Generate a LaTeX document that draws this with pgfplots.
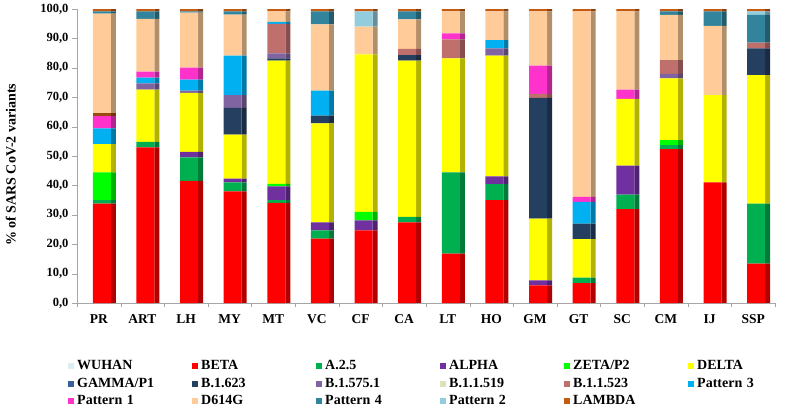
\documentclass[border=0pt]{standalone}
\usepackage{pgfplots}
\usepackage{pgfplotstable}
\pgfplotsset{compat=1.18}
\usepackage{fontspec}
\setmainfont{Liberation Serif}

\definecolor{cWU}{HTML}{DAEEF3}
\definecolor{cBE}{HTML}{FF0000}
\definecolor{cA25}{HTML}{00B050}
\definecolor{cAL}{HTML}{7030A0}
\definecolor{cZE}{HTML}{00FF00}
\definecolor{cDE}{HTML}{FFFF00}
\definecolor{cGA}{HTML}{3A5F97}
\definecolor{cB623}{HTML}{243F60}
\definecolor{cB575}{HTML}{8064A2}
\definecolor{cB519}{HTML}{D7E4BD}
\definecolor{cB523}{HTML}{C0706C}
\definecolor{cP3}{HTML}{00B0F0}
\definecolor{cP1}{HTML}{FF33CC}
\definecolor{cBR}{HTML}{9C4A10}
\definecolor{cD614}{HTML}{FFCC99}
\definecolor{cP4}{HTML}{31849B}
\definecolor{cP2}{HTML}{93CDDD}
\definecolor{cLA}{HTML}{C55A11}

\pgfplotstableread{
x  WU BE   A25  AL  ZE  DE   GA B623 B575 B519 B523 P3   P1  BR  D614 P4  P2  LA
0  0  33.8 1.2  0   9.4 9.6  0  0    0    0    0    5.4  4.2 1.0 33.8 0.8 0   0.8
1  0  52.9 1.9  0   0   17.8 0  0    2.1  0    0    2.0  2.0 0   17.9 2.6 0   0.8
2  0  41.5 8.0  1.9 0   20.1 0  0    0.7  0    0    3.8  4.1 0   18.7 0.4 0   0.8
3  0  38.0 3.0  1.3 0   15.0 0  9.1  4.3  0    0    13.4 0   0   14.0 1.1 0   0.8
4  0  34.1 0.9  4.7 0.8 41.9 0  0.8  1.7  0    10.0 0.7  0   0   3.6  0   0   0.8
5  0  21.9 2.8  2.7 0   33.7 0  2.6  0    0    0    8.5  0   0   22.6 4.4 0   0.8
6  0  24.7 0    3.4 2.9 53.6 0  0    0    0    0    0    0   0   9.4  0   5.2 0.8
7  0  27.4 1.9  0   0   53.1 0  1.9  0    0    2.1  0    0   0   10.1 2.7 0   0.8
8  0  16.8 27.6 0   0   38.8 0  0    0    0    6.5  0    2.0 0   7.5  0   0   0.8
9  0  35.0 5.4  2.7 0   41.0 0  0    2.5  0    0    2.8  0   0   9.8  0   0   0.8
10 0  6.0  0    1.7 0   21.0 0  41.1 0    0    1.3  0    9.6 0   18.5 0   0   0.8
11 0  6.8  1.8  0   0   13.1 0  5.3  0    0    0    7.4  1.7 0   63.1 0   0   0.8
12 0  31.9 5.0  9.8 0   22.7 0  0    0    0    0    0    3.2 0   26.6 0   0   0.8
13 0  52.3 1.4  0   1.7 21.0 0  0    1.5  0    4.7  0    0   0   15.4 1.2 0   0.8
14 0  41.0 0    0   0   29.7 0  0    0    0    0    0    0   0   23.6 4.9 0   0.8
15 0  13.4 20.4 0   0   43.7 0  9.1  0    0    2.0  0    0   0   0    9.4 1.2 0.8
}\data

\newcommand{\stk}[3]{\addplot[fill=#2, draw=none] table[x=x, y=#1]{\data}; \addlegendentry{#3}}
\newcommand{\sd}[2]{\addplot[fill=#2!70!black, draw=none] table[x=x, y=#1]{\data};}

\begin{document}
\begin{tikzpicture}
\path[use as bounding box] (-77pt,-105pt) rectangle (714pt,303pt);
% side faces (3D look)
\begin{axis}[
  at={(0pt,0pt)}, anchor=south west,
  scale only axis, width=698pt, height=294pt,
  hide axis,
  ybar stacked, bar width=5pt, bar shift=14.5pt,
  xmin=-0.5, xmax=15.5, ymin=0, ymax=100,
]
\sd{WU}{cWU}
\sd{BE}{cBE}
\sd{A25}{cA25}
\sd{AL}{cAL}
\sd{ZE}{cZE}
\sd{DE}{cDE}
\sd{GA}{cGA}
\sd{B623}{cB623}
\sd{B575}{cB575}
\sd{B519}{cB519}
\sd{B523}{cB523}
\sd{P3}{cP3}
\sd{P1}{cP1}
\sd{BR}{cBR}
\sd{D614}{cD614}
\sd{P4}{cP4}
\sd{P2}{cP2}
\sd{LA}{cLA}
\end{axis}
\begin{axis}[
  at={(0pt,0pt)}, anchor=south west,
  scale only axis, width=698pt, height=294pt,
  ybar stacked, bar width=18pt, bar shift=3pt,
  xmin=-0.5, xmax=15.5, ymin=0, ymax=100,
  xtick={0,...,15},
  xticklabels={PR,ART,LH,MY,MT,VC,CF,CA,LT,HO,GM,GT,SC,CM,IJ,SSP},
  major x tick style={draw=none},
  minor xtick={-0.5,0.5,...,15.5},
  ytick={0,10,...,100},
  axis x line*=bottom, axis y line*=left,
  axis line style={draw=gray!70},
  tick style={draw=gray!70},
  tick align=outside, major tick length=5pt, minor tick length=4pt,
  yticklabel style={/pgf/number format/.cd, fixed, fixed zerofill, precision=1, use comma, assume math mode=true, /tikz/.cd, font=\fontsize{12.5}{14}\selectfont\bfseries},
  xticklabel style={font=\fontsize{13.5}{16}\selectfont\bfseries, yshift=-3pt},
  ylabel={\% of SARS CoV-2 variants},
  ylabel style={font=\fontsize{14}{16}\selectfont\bfseries, at={(axis description cs:-0.095,0.47)}, anchor=center},
  legend columns=6,
  legend cell align=left,
  legend image code/.code={\fill[#1] (0pt,-3pt) rectangle (6pt,3pt);},
  legend style={at={(axis description cs:-0.0172,-0.178)}, anchor=north west, draw=none, fill=none,
    font=\fontsize{14}{16}\selectfont\bfseries,
    /tikz/column sep=0pt, /tikz/row sep=0pt,
    nodes={inner xsep=3pt, inner ysep=2.2pt, text height=10pt, text depth=3pt, text width=112pt}},
]
\stk{WU}{cWU}{WUHAN}
\stk{BE}{cBE}{BETA}
\stk{A25}{cA25}{A.2.5}
\stk{AL}{cAL}{ALPHA}
\stk{ZE}{cZE}{ZETA/P2}
\stk{DE}{cDE}{DELTA}
\stk{GA}{cGA}{GAMMA/P1}
\stk{B623}{cB623}{B.1.623}
\stk{B575}{cB575}{B.1.575.1}
\stk{B519}{cB519}{B.1.1.519}
\stk{B523}{cB523}{B.1.1.523}
\stk{P3}{cP3}{Pattern 3}
\stk{P1}{cP1}{Pattern 1}
\addplot[fill=cBR, draw=none, forget plot] table[x=x, y=BR]{\data};
\stk{D614}{cD614}{D614G}
\stk{P4}{cP4}{Pattern 4}
\stk{P2}{cP2}{Pattern 2}
\stk{LA}{cLA}{LAMBDA}
\end{axis}
\end{tikzpicture}
\end{document}
